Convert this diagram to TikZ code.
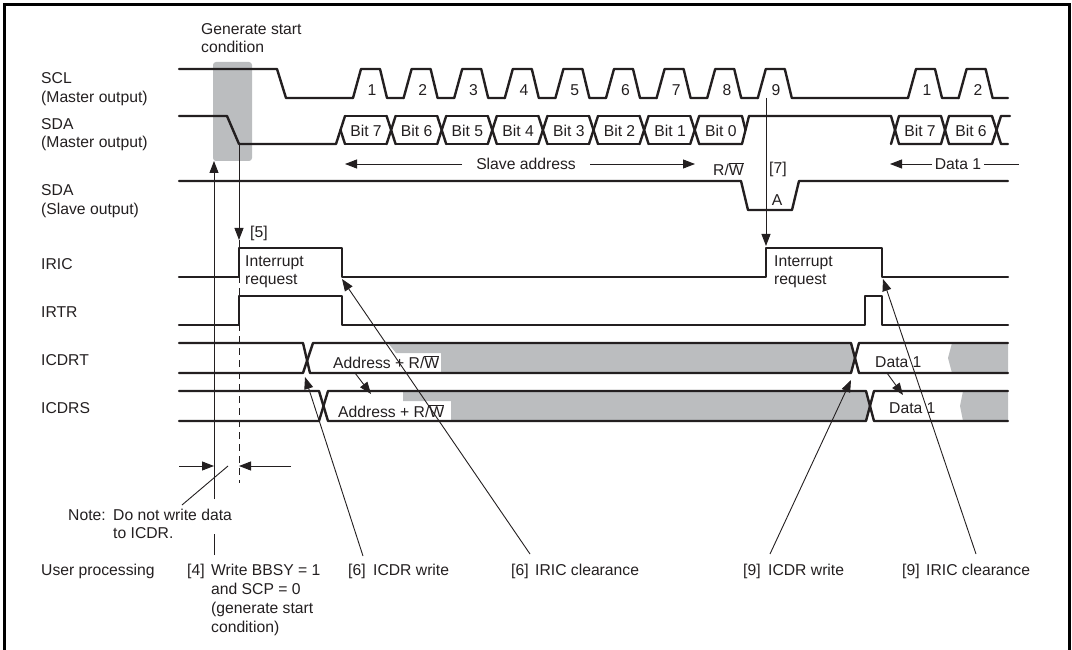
\documentclass[tikz,border=0pt]{standalone}
\usepackage{fontspec}
\setmainfont{Liberation Sans}
\usetikzlibrary{arrows.meta}
\definecolor{ink}{HTML}{231F20}
\definecolor{shade}{HTML}{BBBDBF}
\newcommand{\RW}{R/$\overline{\mbox{W}}$}
\tikzset{
  sig/.style={draw=ink,line width=2.4pt,line join=round,line cap=round},
  thin line/.style={draw=ink,line width=0.9pt},
  arr/.style={thin line,-{Triangle[length=12pt,width=9pt]}},
  dashline/.style={draw=ink,line width=0.9pt,dash pattern=on 7pt off 5pt},
  frameline/.style={draw=black,line width=3pt},
  fillgray/.style={fill=shade,draw=none},
  lab/.style={anchor=west,inner sep=0pt,text height=11.3pt,text depth=0pt,text=ink,font=\fontsize{15.7}{18}\selectfont},
  labc/.style={lab,anchor=center},
}
\begin{document}
\begin{tikzpicture}[x=1pt,y=-1pt]
\useasboundingbox (0,0) rectangle (1072,650);
% frame
\draw[frameline] (4.5,650) -- (4.5,4.5) -- (1069.5,4.5) -- (1069.5,650);
% shading
\fill[fillgray,rounded corners=3pt] (213,62) rectangle (252,161);
\fill[fillgray] (388,343) -- (851,343) -- (855,358) -- (851,373) -- (441,373) -- (441,353) -- (396,353) -- cycle;
\fill[fillgray] (403,391) -- (866,391) -- (869,406) -- (866,421) -- (451,421) -- (451,401) -- (403,401) -- cycle;
\fill[fillgray] (952,343) -- (1008,343) -- (1008,373) -- (952,373) -- (948,358) -- cycle;
\fill[fillgray] (963,391) -- (1008,391) -- (1008,421) -- (963,421) -- (960,406) -- cycle;
% SCL
\draw[sig] (179,69) -- (277,69) -- (286,98) -- (353,98);
\foreach \s/\e in {353/403.6,403.6/454.2,454.2/504.8,504.8/555.4,555.4/606,606/656.6,656.6/707.2,707.2/757.8,757.8/908,908/958.6,958.6/1008}
  \draw[sig] (\s,98) -- (\s+8,69) -- (\s+27,69) -- (\s+34,98) -- (\e,98);
% SDA master
\draw[sig] (179,116) -- (227,116) -- (239,144) -- (336,144) -- (345,116);
\draw[sig] (340.5,130) -- (345,144);
\foreach \c/\n in {340.5/391.1,391.1/441.7,441.7/492.3,492.3/542.9,542.9/593.5,593.5/644.1,644.1/694.7}{
  \draw[sig] (\c+4.5,116) -- (\n-4.5,116);
  \draw[sig] (\c+4.5,144) -- (\n-4.5,144);
  \draw[sig] (\n-4.5,116) -- (\n+4.5,144);
  \draw[sig] (\n-4.5,144) -- (\n+4.5,116);
}
\draw[sig] (699.2,116) -- (742,116) -- (745.5,130);
\draw[sig] (699.2,144) -- (742,144) -- (749,116) -- (891,116) -- (899,144) -- (941,144) -- (949,116) -- (992,116) -- (1001,144) -- (1008,144);
\draw[sig] (891,144) -- (899,116) -- (941,116) -- (949,144) -- (992,144) -- (1001,116) -- (1010,116);
% SDA slave
\draw[sig] (179,181) -- (741,181) -- (748,210) -- (792,210) -- (799,181) -- (1008,181);
% IRIC
\draw[sig] (179,277) -- (239,277) -- (239,248) -- (342,248) -- (342,277) -- (766,277) -- (766,248) -- (882,248) -- (882,277) -- (1008,277);
% IRTR
\draw[sig] (179,325) -- (239,325) -- (239,296) -- (342,296) -- (342,325) -- (865,325) -- (865,296) -- (882,296) -- (882,325) -- (1008,325);
% ICDRT
\draw[sig] (179,343) -- (303,343) -- (310,373) -- (851,373) -- (859,343) -- (1008,343);
\draw[sig] (179,373) -- (303,373) -- (313,343) -- (851,343) -- (859,373) -- (1008,373);
% ICDRS
\draw[sig] (179,391) -- (319,391) -- (328,421) -- (866,421) -- (874,391) -- (1008,391);
\draw[sig] (179,421) -- (319,421) -- (328,391) -- (866,391) -- (874,421) -- (1008,421);
% labels: left column
\node[lab] (lscl) at (41,78) {SCL};
\node[lab] (lsclb) at (41,97) {(Master output)};
\node[lab] (lsda) at (41,124) {SDA};
\node[lab] (lsdab) at (41,142) {(Master output)};
\node[lab] (lsdas) at (41,190) {SDA};
\node[lab] (lsdasb) at (41,209) {(Slave output)};
\node[lab] (liric) at (41,264) {IRIC};
\node[lab] (lirtr) at (41,312) {IRTR};
\node[lab] (licdrt) at (41,360) {ICDRT};
\node[lab] (licdrs) at (41,408) {ICDRS};
% top text
\node[lab] (gen1) at (201,29) {Generate start};
\node[lab] (gen2) at (201,47) {condition};
\foreach \k/\t in {0/1,1/2,2/3,3/4,4/5,5/6,6/7,7/8}
  \node[labc] (num\t) at (372+50.7*\k,90) {\t};
\node[labc] (num9) at (776,90) {9};
\node[labc] (numb1) at (927,90) {1};
\node[labc] (numb2) at (978,90) {2};
\foreach \k/\t in {0/7,1/6,2/5,3/4,4/3,5/2,6/1,7/0}
  \node[labc] (bit\t) at (366+50.7*\k,131) {Bit \t};
\node[labc] (bitb7) at (920,131) {Bit 7};
\node[labc] (bitb6) at (971,131) {Bit 6};
\node[labc] (slave) at (526,164) {Slave address};
\node[lab] (rw) at (713,170) {\RW};
\node[lab] (seven) at (769,168) {[7]};
\node[labc] (ack) at (777,200) {A};
\node[labc] (data) at (958,164) {Data 1};
\node[lab] (five) at (250,232) {[5]};
\node[lab] (ir1) at (245,261) {Interrupt};
\node[lab] (ir2) at (245,279) {request};
\node[lab] (ir3) at (774,261) {Interrupt};
\node[lab] (ir4) at (774,279) {request};
\node[lab] (addr1) at (333,363) {Address + \RW};
\node[lab] (addr2) at (338,412) {Address + \RW};
\node[lab] (d1) at (875,362) {Data 1};
\node[lab] (d2) at (889,408) {Data 1};
\node[lab] (note) at (68,515) {Note:};
\node[lab] (note1) at (113,515) {Do not write data};
\node[lab] (note2) at (113,533) {to ICDR.};
\node[lab] (user) at (41,570) {User processing};
\node[lab] (n4) at (187,570) {[4]};
\node[lab] (w1) at (211,570) {Write BBSY = 1};
\node[lab] (w2) at (211,589) {and SCP = 0};
\node[lab] (w3) at (211,608) {(generate start};
\node[lab] (w4) at (211,627) {condition)};
\node[lab] (n6a) at (348,570) {[6]};
\node[lab] (t6a) at (373,570) {ICDR write};
\node[lab] (n6b) at (511,570) {[6]};
\node[lab] (t6b) at (535,570) {IRIC clearance};
\node[lab] (n9a) at (743,570) {[9]};
\node[lab] (t9a) at (768,570) {ICDR write};
\node[lab] (n9b) at (902,570) {[9]};
\node[lab] (t9b) at (926,570) {IRIC clearance};
% connector end points
\coordinate (up1) at (214,555);
\coordinate (up2) at (214,534);
\coordinate (up3) at (214,499);
\coordinate (up4) at (214,161);
\coordinate (fall) at (239,144);
\coordinate (irs) at (239,240);
\coordinate (irsd) at (239,483);
\coordinate (sl1) at (345,164);
\coordinate (sl2) at (462,164);
\coordinate (sl3) at (590,164);
\coordinate (sl4) at (695,164);
\coordinate (dl1) at (890,164);
\coordinate (dl2) at (932,164);
\coordinate (dl3) at (984,164);
\coordinate (dl4) at (1019,164);
\coordinate (nine) at (766,98);
\coordinate (ninet) at (766,246);
\coordinate (hl1) at (179,466);
\coordinate (hl2) at (214,466);
\coordinate (hr1) at (291,466);
\coordinate (hr2) at (239,466);
\coordinate (lead1) at (228,466);
\coordinate (lead2) at (182,505);
\coordinate (a1) at (355,373);
\coordinate (a2) at (371,394);
\coordinate (a3) at (887,373);
\coordinate (a4) at (903,395);
\coordinate (c1) at (363,556);
\coordinate (c2) at (305,377);
\coordinate (c3) at (530,554);
\coordinate (c4) at (342,279);
\coordinate (c5) at (770,554);
\coordinate (c6) at (851,380);
\coordinate (c7) at (976,554);
\coordinate (c8) at (883,279);
% connectors
\draw[thin line] (up1) -- (up2);
\draw[arr] (up3) -- (up4);
\draw[arr] (fall) -- (irs);
\draw[dashline] (irs) -- (irsd);
\draw[arr] (sl2) -- (sl1);
\draw[arr] (sl3) -- (sl4);
\draw[arr] (dl2) -- (dl1);
\draw[thin line] (dl3) -- (dl4);
\draw[arr] (nine) -- (ninet);
\draw[arr] (hl1) -- (hl2);
\draw[arr] (hr1) -- (hr2);
\draw[thin line] (lead1) -- (lead2);
\draw[arr] (a1) -- (a2);
\draw[arr] (a3) -- (a4);
\draw[arr] (c1) -- (c2);
\draw[arr] (c3) -- (c4);
\draw[arr] (c5) -- (c6);
\draw[arr] (c7) -- (c8);
\end{tikzpicture}
\end{document}
